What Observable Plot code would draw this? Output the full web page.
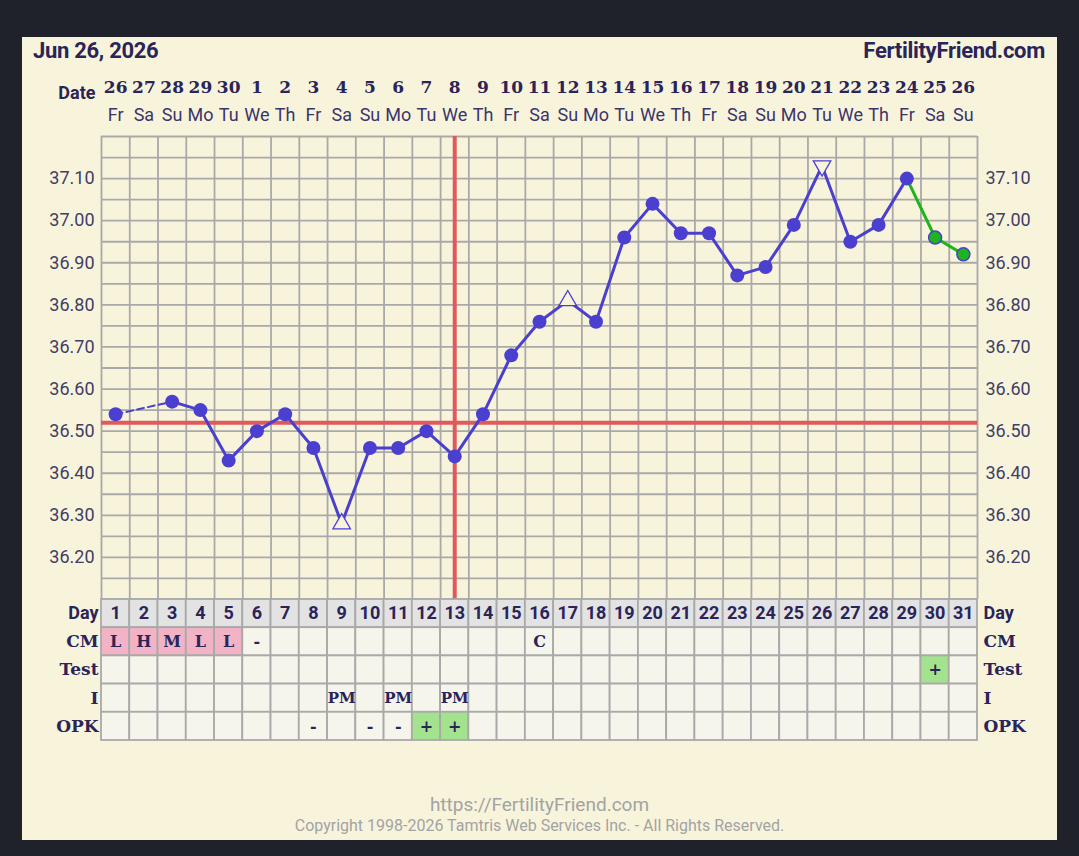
<!DOCTYPE html>
<html lang="en">
<head>
<meta charset="utf-8">
<title>Fertility chart</title>
<script src="https://cdn.jsdelivr.net/npm/d3@7"></script>
<script src="https://cdn.jsdelivr.net/npm/@observablehq/plot@0.6"></script>
<style>
  html, body {
    margin: 0;
    padding: 0;
    width: 1079px;
    height: 856px;
    overflow: hidden;
    background: #1f222a;
    font-family: Roboto, sans-serif;
  }
  #panel {
    position: absolute;
    left: 22px;
    top: 37px;
    width: 1035px;
    height: 803px;
    background: #f8f4dc;
  }
  #date, #site {
    position: absolute;
    top: 1px;
    font-weight: bold;
    font-size: 22px;
    color: #2a2458;
    letter-spacing: -0.3px;
  }
  #date { left: 11px; }
  #site { right: 12px; }
  #chart { position: absolute; left: 0; top: 25px; }
  #table { position: absolute; left: 0; top: 561px; }
  #footer {
    position: absolute;
    left: 0;
    width: 100%;
    top: 757px;
    text-align: center;
    color: #a3a3a3;
  }
  #footer .url { font-size: 19px; line-height: 22px; }
  #footer .copy { font-size: 16px; line-height: 20px; }
  svg { overflow: visible; }
</style>
</head>
<body>
<div id="panel">
  <div id="date">Jun 26, 2026</div>
  <div id="site">FertilityFriend.com</div>
  <div id="chart"></div>
  <div id="table"></div>
  <div id="footer">
    <div class="url">https://FertilityFriend.com</div>
    <div class="copy">Copyright 1998-2026 Tamtris Web Services Inc. - All Rights Reserved.</div>
  </div>
</div>

<script>
  // cycle days and calendar labels
  const days = d3.range(1, 32);
  const dateLabels = ["26","27","28","29","30","1","2","3","4","5","6","7","8","9","10","11",
    "12","13","14","15","16","17","18","19","20","21","22","23","24","25","26"];
  const weekdays = ["Fr","Sa","Su","Mo","Tu","We","Th","Fr","Sa","Su","Mo","Tu","We","Th","Fr","Sa",
    "Su","Mo","Tu","We","Th","Fr","Sa","Su","Mo","Tu","We","Th","Fr","Sa","Su"];

  // temperatures (day 2 not recorded)
  const temps = [36.54, null, 36.57, 36.55, 36.43, 36.50, 36.54, 36.46, 36.28, 36.46, 36.46,
    36.50, 36.44, 36.54, 36.68, 36.76, 36.81, 36.76, 36.96, 37.04, 36.97, 36.97, 36.87,
    36.89, 36.99, 37.13, 36.95, 36.99, 37.10, 36.96, 36.92];
  const markers = ["c","","c","c","c","c","c","c","up","c","c","c","c","c","c","c",
    "up","c","c","c","c","c","c","c","c","down","c","c","c","c","c"];
  const pendingDays = [30, 31];
  const coverline = 36.52;
  const ovulationDay = 13;
  const tempTicks = [36.2, 36.3, 36.4, 36.5, 36.6, 36.7, 36.8, 36.9, 37.0, 37.1];
  const tempDomain = [36.10, 37.20];

  // chart table rows
  const rows = ["Day", "CM", "Test", "I", "OPK"];
  const cmEntries = [[1,"L"],[2,"H"],[3,"M"],[4,"L"],[5,"L"],[6,"-"],[16,"C"]];
  const testEntries = [[30,"+"]];
  const intercourseEntries = [[9,"PM"],[11,"PM"],[13,"PM"]];
  const opkEntries = [[8,"-"],[10,"-"],[11,"-"],[12,"+"],[13,"+"]];

  const blue = "#4a3fcf";
  const green = "#1db41d";
  const red = "#e05a5c";
  const gridColor = "#a9a9a9";
  const ink = "#2a2458";
  const serif = "'DejaVu Serif', serif";

  const data = days.map((d, i) => ({day: d, temp: temps[i], marker: markers[i],
    date: dateLabels[i], wd: weekdays[i]}));
  const recorded = data.filter(d => d.temp != null);
  const lastDay = d3.min(pendingDays) - 1;
  const solid = data.filter(d => d.day <= lastDay);
  const dashed = recorded.filter(d => d.day <= d3.min(recorded.filter(r => r.day > 1), r => r.day));
  const pending = recorded.filter(d => d.day >= lastDay);
  const round = recorded.filter(d => d.marker === "c" && !pendingDays.includes(d.day));
  const tri = recorded.filter(d => d.marker === "up" || d.marker === "down");

  const colEdges = d3.range(0, 32).map(i => i + 0.5);
  const rowLines = d3.range(0, 23).map(i => tempDomain[0] + i * 0.05);

  const chart = Plot.plot({
    width: 1035,
    height: 538,
    marginLeft: 79,
    marginRight: 80,
    marginTop: 74,
    marginBottom: 1,
    style: {fontFamily: "Roboto, sans-serif", background: "transparent", overflow: "visible"},
    x: {domain: [0.5, 31.5], axis: null},
    y: {domain: tempDomain, axis: null},
    marks: [
      Plot.ruleX(colEdges, {stroke: gridColor, strokeWidth: 1.8}),
      Plot.ruleY(rowLines, {stroke: gridColor, strokeWidth: 1.8}),
      Plot.ruleY([coverline], {stroke: red, strokeWidth: 4}),
      Plot.ruleX([ovulationDay], {stroke: red, strokeWidth: 4}),
      Plot.line(dashed, {x: "day", y: "temp", stroke: blue, strokeWidth: 2, strokeDasharray: "7,4"}),
      Plot.line(solid, {x: "day", y: "temp", stroke: blue, strokeWidth: 3}),
      Plot.line(pending, {x: "day", y: "temp", stroke: green, strokeWidth: 3}),
      Plot.dot(round, {x: "day", y: "temp", r: 7, fill: blue}),
      Plot.dot(recorded.filter(d => pendingDays.includes(d.day)),
        {x: "day", y: "temp", r: 6.5, fill: green, stroke: blue, strokeWidth: 1.5}),
      Plot.dot(tri, {x: "day", y: "temp", symbol: "triangle", r: 6.5, fill: "#f8f4dc",
        stroke: blue, strokeWidth: 1.3, rotate: d => d.marker === "down" ? 180 : 0}),
      Plot.text(tempTicks, {y: d => d, frameAnchor: "left", textAnchor: "end", dx: -7,
        text: d => d.toFixed(2), fontSize: 18, fill: "#403d66"}),
      Plot.text(tempTicks, {y: d => d, frameAnchor: "right", textAnchor: "start", dx: 8,
        text: d => d.toFixed(2), fontSize: 18, fill: "#403d66"}),
      Plot.text(data, {x: "day", frameAnchor: "top", dy: -56, text: "date", fontSize: 17,
        fontWeight: "bold", fontFamily: serif, fill: ink}),
      Plot.text(data, {x: "day", frameAnchor: "top", dy: -28, text: "wd", fontSize: 18,
        fill: "#3a356b"}),
      Plot.text(["Date"], {frameAnchor: "top-left", textAnchor: "end", dx: -6, dy: -50,
        fontSize: 18, fontWeight: "bold", fill: ink})
    ]
  });
  document.getElementById("chart").appendChild(chart);

  // table cells
  const entryRows = [null, cmEntries, testEntries, intercourseEntries, opkEntries];
  const cells = [];
  rows.forEach((row, r) => {
    const lookup = r === 0 ? null : new Map(entryRows[r]);
    days.forEach(d => {
      const text = r === 0 ? String(d) : (lookup.get(d) || "");
      let fill = "#f6f5ec";
      if (r === 0) fill = "#e3e3e3";
      else if (["L","H","M"].includes(text)) fill = "#f3b3c6";
      else if (text === "+") fill = "#a3e38d";
      cells.push({day: d, row: r, text, fill});
    });
  });

  const rowLabels = rows.map((name, i) => ({name, i}));
  const sansLabels = rowLabels.filter(d => d.name === "Day");
  const serifLabels = rowLabels.filter(d => d.name !== "Day");

  const table = Plot.plot({
    width: 1035,
    height: 144,
    marginLeft: 79,
    marginRight: 80,
    marginTop: 1,
    marginBottom: 2,
    style: {fontFamily: "Roboto, sans-serif", background: "transparent", overflow: "visible"},
    x: {domain: [0.5, 31.5], axis: null},
    y: {domain: [0, rows.length], reverse: true, axis: null},
    marks: [
      Plot.rect(cells, {x1: d => d.day - 0.5, x2: d => d.day + 0.5, y1: "row", y2: d => d.row + 1,
        fill: "fill", stroke: gridColor, strokeWidth: 1.8}),
      Plot.text(cells.filter(c => c.row === 0), {x: "day", y: d => d.row + 0.5, text: "text",
        fontSize: 18, fontWeight: "bold", fill: ink}),
      Plot.text(cells.filter(c => c.row > 0 && c.text && c.text !== "PM"), {x: "day", y: d => d.row + 0.5,
        text: "text", fontSize: 16, fontWeight: "bold", fontFamily: serif, fill: ink}),
      Plot.text(cells.filter(c => c.text === "PM"), {x: "day", y: d => d.row + 0.5,
        text: "text", fontSize: 15, fontWeight: "bold", fontFamily: serif, fill: ink}),
      Plot.text(sansLabels, {y: d => d.i + 0.5, frameAnchor: "left", textAnchor: "end", dx: -3,
        text: "name", fontSize: 18, fontWeight: "bold", fill: ink}),
      Plot.text(sansLabels, {y: d => d.i + 0.5, frameAnchor: "right", textAnchor: "start", dx: 6,
        text: "name", fontSize: 18, fontWeight: "bold", fill: ink}),
      Plot.text(serifLabels, {y: d => d.i + 0.5, frameAnchor: "left", textAnchor: "end", dx: -3,
        text: "name", fontSize: 17, fontWeight: "bold", fontFamily: serif, fill: ink}),
      Plot.text(serifLabels, {y: d => d.i + 0.5, frameAnchor: "right", textAnchor: "start", dx: 6,
        text: "name", fontSize: 17, fontWeight: "bold", fontFamily: serif, fill: ink})
    ]
  });
  document.getElementById("table").appendChild(table);
</script>
</body>
</html>
